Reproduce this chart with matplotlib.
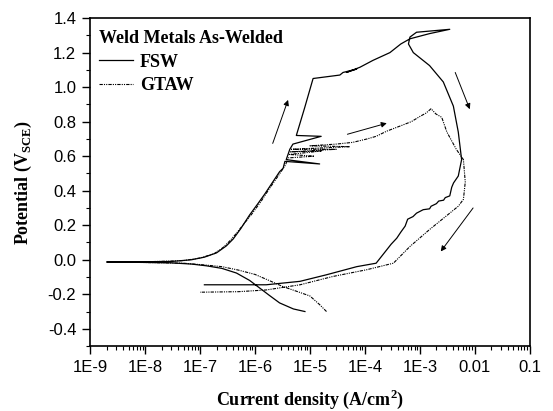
import numpy as np
import matplotlib
matplotlib.use("Agg")
import matplotlib.pyplot as plt
from matplotlib.ticker import FixedLocator, FixedFormatter, LogLocator, MultipleLocator, FuncFormatter

plt.rcParams["mathtext.fontset"] = "custom"
plt.rcParams["mathtext.bf"] = "Liberation Serif:bold"
plt.rcParams["mathtext.rm"] = "Liberation Serif:bold"

# FSW scan: cathodic start -> anodic -> reverse scan
fsw_current = [8.1e-6, 5e-6, 2.8e-6, 1.8e-6, 1.23e-6, 8e-7, 4.6e-7, 2.5e-7, 1.3e-7, 7e-8,
               3e-8, 5e-9, 2e-9, 5e-9, 3e-8, 7e-8, 1.2e-7, 2e-7, 3e-7, 4e-7,
               5.5e-7, 8e-7, 1.1e-6, 1.5e-6, 2.1e-6, 2.8e-6, 3.25e-6, 3.5e-6, 1.5e-5, 3.7e-6,
               4.3e-6, 4.9e-6, 1.6e-5, 5.65e-6, 8e-6, 1.14e-5, 2e-5, 3.5e-5, 4e-5, 7.1e-5,
               4.6e-5, 8.1e-5, 1.4e-4, 2.85e-4, 4.5e-4, 6.6e-4, 1.5e-3, 3.5e-3, 8.7e-4, 6.6e-4,
               6.2e-4, 7.6e-4, 1.5e-3, 2.67e-3, 4.07e-3, 5e-3, 5.75e-3, 5e-3, 4.1e-3, 3.8e-3,
               3.5e-3, 2.9e-3, 2.7e-3, 2.2e-3, 2e-3, 1.6e-3, 1.5e-3, 1.15e-3, 8.7e-4, 7.5e-4,
               6e-4, 5.4e-4, 4.5e-4, 3.8e-4, 3e-4, 2.5e-4, 1.6e-4, 7.1e-5, 2e-5, 6.6e-6,
               1.6e-6, 1.2e-7]
fsw_potential = [-0.30, -0.285, -0.25, -0.205, -0.165, -0.12, -0.077, -0.05, -0.035, -0.025,
                 -0.018, -0.014, -0.013, -0.012, -0.010, 0.0, 0.015, 0.04, 0.08, 0.12,
                 0.18, 0.26, 0.32, 0.38, 0.45, 0.51, 0.53, 0.57, 0.555, 0.58,
                 0.64, 0.67, 0.715, 0.72, 0.88, 1.05, 1.06, 1.07, 1.085, 1.105,
                 1.085, 1.115, 1.155, 1.20, 1.25, 1.28, 1.31, 1.335, 1.318, 1.29,
                 1.25, 1.20, 1.125, 1.03, 0.89, 0.74, 0.58, 0.485, 0.445, 0.42,
                 0.37, 0.36, 0.345, 0.34, 0.325, 0.31, 0.295, 0.29, 0.27, 0.25,
                 0.235, 0.195, 0.16, 0.125, 0.09, 0.058, -0.02, -0.04, -0.087, -0.125,
                 -0.145, -0.145]

# GTAW scan
gtaw_current = [2e-5, 1.5e-5, 1e-5, 6e-6, 3.2e-6, 1.8e-6, 1e-6, 5e-7, 2.5e-7, 1.2e-7,
                5e-8, 1e-8, 3e-9, 1e-8, 5e-8, 1e-7, 1.8e-7, 2.6e-7, 3.5e-7, 4.5e-7,
                6e-7, 9e-7, 1.3e-6, 1.9e-6, 2.7e-6, 3.6e-6, 4e-6, 1.2e-5, 4.2e-6, 1.6e-5,
                4.4e-6, 3e-5, 4.6e-6, 5.3e-5, 1e-5, 3e-5, 6e-5, 1.1e-4, 1.6e-4, 2.5e-4,
                4.4e-4, 7e-4, 1e-3, 1.3e-3, 1.6e-3, 1.95e-3, 2.5e-3, 3.1e-3, 4.6e-3, 6.2e-3,
                6.5e-3, 6.7e-3, 6.2e-3, 5e-3, 3.5e-3, 1.5e-3, 6.6e-4, 3.3e-4, 1.07e-4, 2.6e-5,
                6.6e-6, 1.6e-6, 5e-7, 1e-7]
gtaw_potential = [-0.30, -0.26, -0.21, -0.185, -0.155, -0.12, -0.085, -0.06, -0.04, -0.03,
                  -0.02, -0.016, -0.014, -0.012, -0.005, 0.01, 0.035, 0.07, 0.11, 0.15,
                  0.20, 0.27, 0.34, 0.42, 0.49, 0.55, 0.59, 0.60, 0.61, 0.63,
                  0.625, 0.64, 0.64, 0.655, 0.66, 0.67, 0.68, 0.70, 0.715, 0.745,
                  0.775, 0.80, 0.83, 0.85, 0.875, 0.845, 0.825, 0.74, 0.64, 0.58,
                  0.50, 0.45, 0.35, 0.31, 0.27, 0.175, 0.077, -0.02, -0.058, -0.097,
                  -0.145, -0.175, -0.185, -0.188]

# scan direction arrows: (current, potential) of tail and head
arrow_tails = [(2.1e-6, 0.674), (4.8e-5, 0.727), (4.4e-3, 1.085), (9.3e-3, 0.30)]
arrow_heads = [(4e-6, 0.926), (2.5e-4, 0.791), (8.1e-3, 0.872), (2.4e-3, 0.048)]

x_ticks = [1e-9, 1e-8, 1e-7, 1e-6, 1e-5, 1e-4, 1e-3, 1e-2, 1e-1]
x_labels = ["1E-9", "1E-8", "1E-7", "1E-6", "1E-5", "1E-4", "1E-3", "0.01", "0.1"]

serif = "Liberation Serif"
sans = "Liberation Sans"

fig = plt.figure(figsize=(5.53, 4.11), dpi=100)
ax = fig.add_axes([0.163, 0.158, 0.795, 0.798])

ax.plot(fsw_current, fsw_potential, color="black", lw=0.9, label="FSW")
ax.plot(gtaw_current, gtaw_potential, color="black", lw=0.8,
        linestyle=(0, (3, 1, 1, 1, 1, 1)), label="GTAW")

for t, h in zip(arrow_tails, arrow_heads):
    ax.annotate("", xy=h, xytext=t,
                arrowprops=dict(arrowstyle="-|>", color="black", lw=0.7,
                                mutation_scale=8, shrinkA=0, shrinkB=0))

ax.set_xscale("log")
ax.set_xlim(1e-9, 1e-1)
ax.set_ylim(-0.5, 1.4)
ax.xaxis.set_major_locator(FixedLocator(x_ticks))
ax.xaxis.set_major_formatter(FixedFormatter(x_labels))
ax.xaxis.set_minor_locator(LogLocator(base=10, subs=np.arange(2, 10), numticks=20))
ax.yaxis.set_major_locator(MultipleLocator(0.2))
ax.yaxis.set_minor_locator(MultipleLocator(0.1))
ax.yaxis.set_major_formatter(FuncFormatter(lambda v, p: "%.1f" % (0.0 if abs(v) < 1e-9 else v)))

ax.tick_params(which="major", direction="out", length=6, width=1, top=False, right=False, pad=4)
ax.tick_params(which="minor", direction="out", length=3, width=0.8, top=False, right=False)
for lab in ax.get_xticklabels() + ax.get_yticklabels():
    lab.set_fontfamily(sans)
    lab.set_fontsize(12)
for s in ax.spines.values():
    s.set_linewidth(1.2)

ax.set_xlabel("Current density (A/cm$^\\mathbf{2}$)", fontfamily=serif, fontweight="bold",
              fontsize=13, labelpad=9)
ax.set_ylabel("Potential (V$_\\mathbf{SCE}$)", fontfamily=serif, fontweight="bold",
              fontsize=13, labelpad=10)

leg = ax.legend(loc="upper left", bbox_to_anchor=(0.0, 0.99), frameon=False,
                title="Weld Metals As-Welded",
                prop={"family": serif, "weight": "bold", "size": 13},
                title_fontproperties={"family": serif, "weight": "bold", "size": 13},
                alignment="left", handlelength=1.9, handletextpad=0.35,
                labelspacing=0.35, borderaxespad=0.2, borderpad=0.3)

fig.savefig("out.png", dpi=100)
